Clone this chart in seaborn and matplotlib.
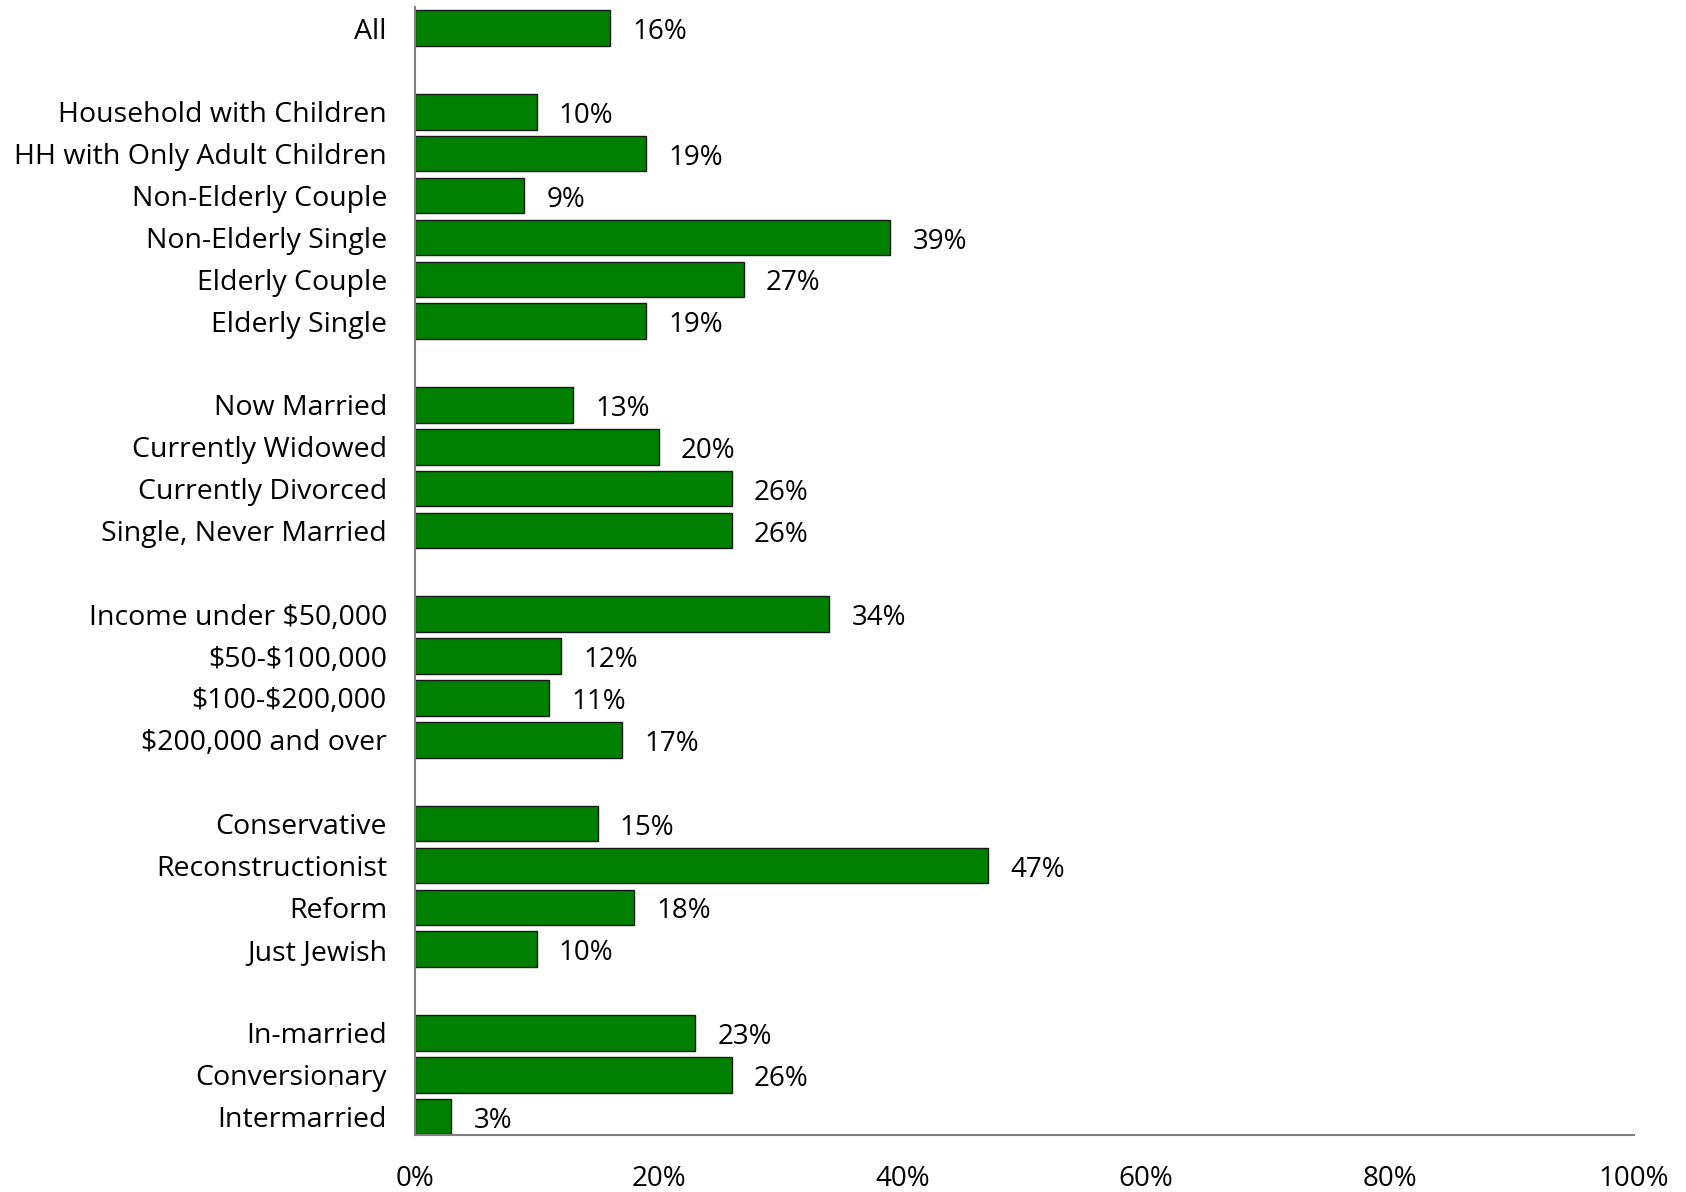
import seaborn as sns
import pandas as pd
import matplotlib.pyplot as plt

# categories grouped; blank strings act as gaps between groups
groups = [
    ["All"],
    ["Household with Children", "HH with Only Adult Children", "Non-Elderly Couple",
     "Non-Elderly Single", "Elderly Couple", "Elderly Single"],
    ["Now Married", "Currently Widowed", "Currently Divorced", "Single, Never Married"],
    ["Income under $50,000", "$50-$100,000", "$100-$200,000", "$200,000 and over"],
    ["Conservative", "Reconstructionist", "Reform", "Just Jewish"],
    ["In-married", "Conversionary", "Intermarried"],
]
values = [
    [16],
    [10, 19, 9, 39, 27, 19],
    [13, 20, 26, 26],
    [34, 12, 11, 17],
    [15, 47, 18, 10],
    [23, 26, 3],
]

labels = [c for g in groups for c in g]
pcts = [v for g in values for v in g]

order = []
for i, g in enumerate(groups):
    if i > 0:
        order.append(" " * i)
    order.extend(g)

df = pd.DataFrame({"group": labels, "pct": pcts})

sns.set_style("white")
plt.rcParams["font.family"] = ["Open Sans", "DejaVu Sans"]
plt.rcParams["text.parse_math"] = False
plt.rcParams["text.color"] = "black"
plt.rcParams["xtick.color"] = "black"
plt.rcParams["ytick.color"] = "black"

fig, ax = plt.subplots(figsize=(16.86, 11.92), dpi=100)
fig.subplots_adjust(left=0.246, right=0.969, top=0.994, bottom=0.0474)

sns.barplot(data=df, x="pct", y="group", order=order, orient="h",
            color="#008000", saturation=1, width=0.85,
            edgecolor="#1a1a1a", linewidth=1, ax=ax)

texts = ax.bar_label(ax.containers[0], labels=[f"{v}%" for v in pcts],
                     padding=16, fontsize=20, color="black")
for t in texts:
    t.xyann = (16, -3)  # sit slightly below bar centre like the original

ax.set_xlim(0, 100)
ax.set_ylim(len(order) - 1 + 0.45, -0.5)
ax.set_xticks(range(0, 101, 20))
ax.set_xticklabels([f"{t}%" for t in range(0, 101, 20)])
ax.tick_params(axis="x", length=0, pad=21, labelsize=20)
ax.tick_params(axis="y", length=0, pad=20, labelsize=20.5)
ax.set_xlabel("")
ax.set_ylabel("")

for s in ["top", "right"]:
    ax.spines[s].set_visible(False)
for s in ["left", "bottom"]:
    ax.spines[s].set_color("#808080")
    ax.spines[s].set_linewidth(1.5)

fig.savefig("out.png", dpi=100)
